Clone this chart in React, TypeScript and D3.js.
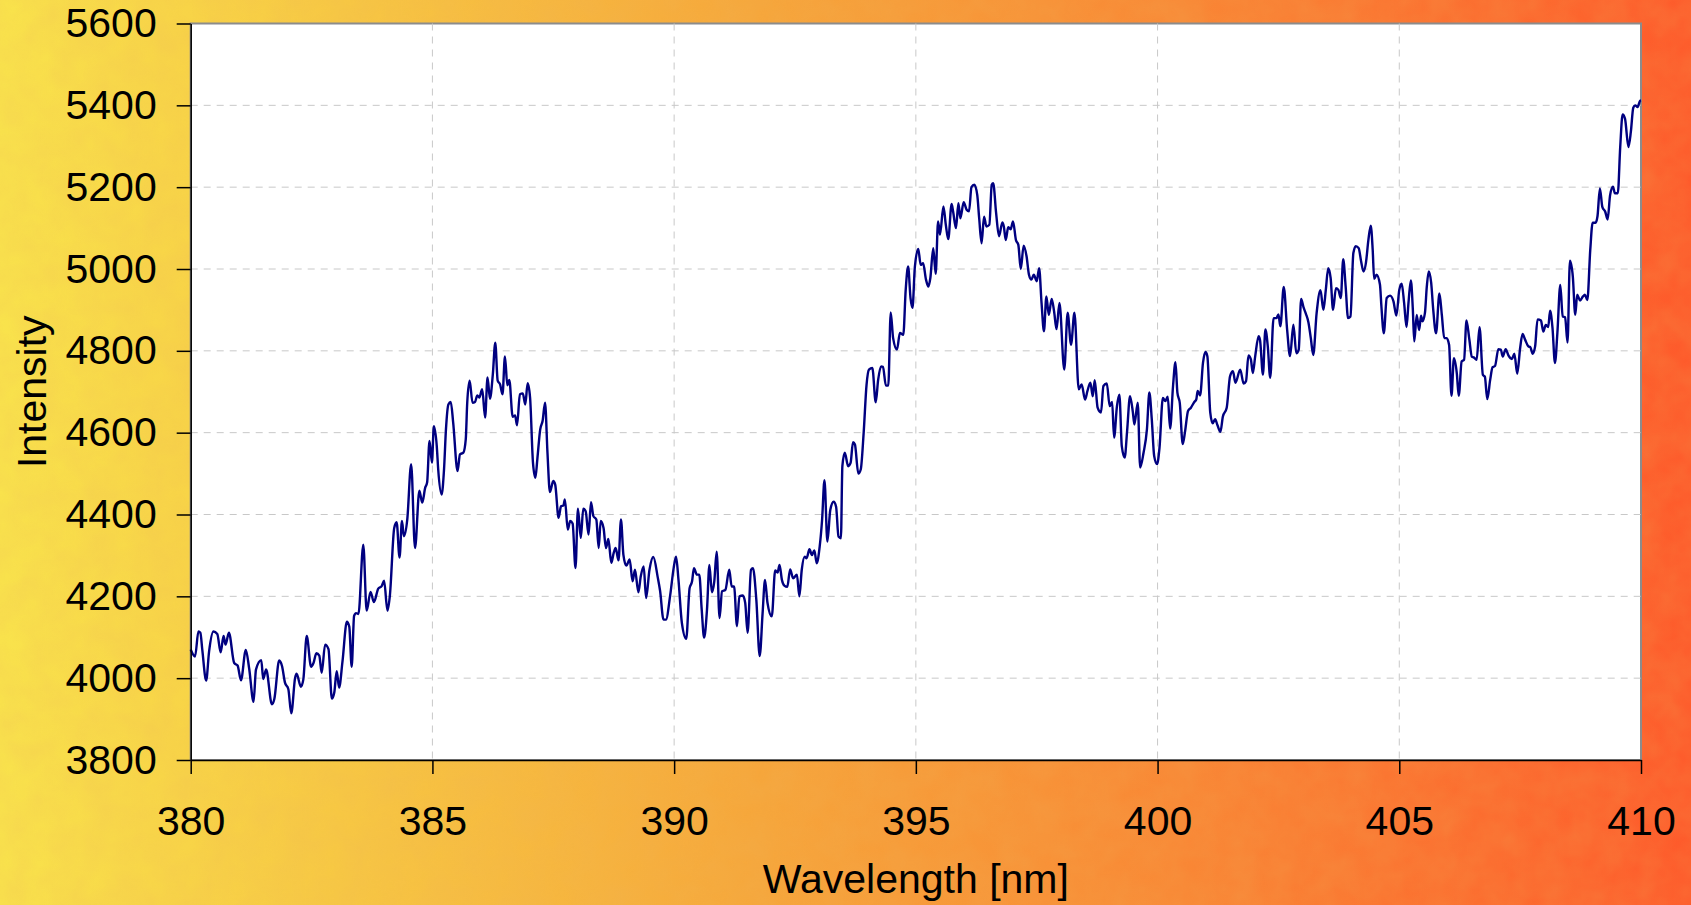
import { useEffect, useRef } from "react";
import * as d3 from "d3";

// [wavelength nm, intensity], band by band
const band380: [number, number][] = [
  [380.0, 4070], [380.09, 4053], [380.16, 4114], [380.2, 4111], [380.24, 4069], [380.32, 3994],
  [380.38, 4065], [380.47, 4114], [380.55, 4108], [380.62, 4063], [380.68, 4103], [380.72, 4082],
  [380.79, 4111], [380.9, 4037], [380.97, 4031], [381.04, 3995], [381.14, 4069], [381.21, 4023],
  [381.3, 3942], [381.35, 4021], [381.46, 4044], [381.5, 3998], [381.56, 4021], [381.68, 3936],
  [381.73, 3949], [381.83, 4043], [381.89, 4029], [381.95, 3989], [382.02, 3973], [382.08, 3914],
  [382.16, 4001], [382.19, 4011], [382.28, 3979], [382.33, 3997], [382.4, 4103], [382.49, 4028],
  [382.54, 4037], [382.6, 4061], [382.66, 4055], [382.71, 4013], [382.78, 4082], [382.85, 4071],
  [382.92, 3950], [382.97, 3965], [383.02, 4017], [383.07, 3977], [383.14, 4041], [383.23, 4138],
  [383.28, 4126], [383.33, 4028], [383.38, 4152],
];

const band383: [number, number][] = [
  [383.42, 4159], [383.47, 4157], [383.57, 4326], [383.64, 4165], [383.72, 4211], [383.79, 4186],
  [383.88, 4219], [383.95, 4225], [384.0, 4238], [384.07, 4165], [384.12, 4202], [384.21, 4367],
  [384.26, 4381], [384.32, 4295], [384.37, 4384], [384.41, 4347], [384.48, 4388], [384.56, 4523],
  [384.64, 4318], [384.73, 4458], [384.79, 4429], [384.85, 4465], [384.89, 4478], [384.94, 4580],
  [384.99, 4527],
];

const band385: [number, number][] = [
  [385.03, 4616], [385.09, 4567], [385.12, 4510], [385.19, 4449], [385.24, 4510], [385.28, 4608],
  [385.33, 4669], [385.38, 4675], [385.43, 4624], [385.52, 4506], [385.57, 4547], [385.64, 4551],
  [385.69, 4584], [385.72, 4673], [385.77, 4727], [385.83, 4673], [385.88, 4675], [385.93, 4691],
  [385.97, 4686], [386.03, 4706], [386.09, 4637], [386.14, 4735], [386.19, 4683], [386.25, 4743],
  [386.3, 4820], [386.35, 4727], [386.4, 4718], [386.45, 4694], [386.5, 4786], [386.55, 4716],
  [386.59, 4729], [386.66, 4639], [386.71, 4642], [386.75, 4618], [386.81, 4694], [386.87, 4696],
  [386.92, 4669], [386.97, 4721], [387.02, 4686], [387.08, 4527], [387.13, 4490], [387.17, 4535],
  [387.23, 4608], [387.28, 4629], [387.33, 4673], [387.38, 4551], [387.43, 4455], [387.5, 4482],
  [387.54, 4473], [387.61, 4392], [387.66, 4420], [387.71, 4422], [387.74, 4437], [387.8, 4363],
  [387.85, 4384], [387.9, 4378], [387.96, 4269], [388.01, 4414], [388.07, 4343], [388.12, 4414],
  [388.17, 4408], [388.23, 4351], [388.28, 4430], [388.33, 4396], [388.39, 4388], [388.44, 4318],
  [388.48, 4384], [388.54, 4367], [388.59, 4318], [388.64, 4340], [388.7, 4282], [388.75, 4306],
  [388.79, 4318], [388.85, 4288], [388.9, 4388], [388.95, 4302], [389.01, 4275], [389.08, 4290],
  [389.14, 4237], [389.19, 4265], [389.26, 4210], [389.31, 4249], [389.37, 4273], [389.42, 4196],
  [389.49, 4265], [389.57, 4296], [389.66, 4247],
];

const band390: [number, number][] = [
  [389.71, 4213], [389.78, 4143], [389.83, 4143], [389.92, 4204], [389.99, 4269], [390.04, 4297],
  [390.09, 4240], [390.16, 4135], [390.25, 4096], [390.32, 4220], [390.37, 4236], [390.41, 4269],
  [390.47, 4253], [390.52, 4253], [390.57, 4168], [390.62, 4099], [390.68, 4168], [390.73, 4277],
  [390.78, 4210], [390.83, 4236], [390.88, 4309], [390.94, 4147], [390.99, 4212], [391.06, 4216],
  [391.14, 4265], [391.19, 4224], [391.24, 4224], [391.3, 4127], [391.35, 4200], [391.42, 4202],
  [391.47, 4184], [391.52, 4111], [391.59, 4265], [391.63, 4269], [391.7, 4192], [391.77, 4054],
  [391.83, 4159], [391.88, 4240], [391.93, 4185], [392.02, 4151], [392.09, 4263], [392.14, 4258],
  [392.18, 4277], [392.23, 4240], [392.28, 4226], [392.34, 4223], [392.4, 4266], [392.46, 4244],
  [392.54, 4253], [392.59, 4200], [392.64, 4265], [392.7, 4297], [392.74, 4293], [392.8, 4315],
  [392.85, 4301], [392.9, 4312], [392.95, 4281], [393.01, 4321], [393.06, 4386], [393.11, 4484],
  [393.17, 4334], [393.23, 4411], [393.3, 4431], [393.35, 4419], [393.4, 4346], [393.45, 4342],
];

const band393: [number, number][] = [
  [393.48, 4518], [393.53, 4551], [393.6, 4518], [393.65, 4526], [393.7, 4577], [393.74, 4571],
  [393.81, 4500], [393.86, 4510], [393.92, 4599], [393.98, 4717], [394.03, 4754], [394.1, 4758],
  [394.17, 4674], [394.22, 4729], [394.28, 4762], [394.32, 4761], [394.38, 4715], [394.43, 4715],
  [394.48, 4894], [394.53, 4831], [394.61, 4803], [394.67, 4844], [394.74, 4839], [394.79, 4949],
  [394.84, 5006], [394.89, 4929], [394.93, 4905], [394.98, 5006], [395.05, 5049], [395.1, 5010],
  [395.15, 5014], [395.21, 4974], [395.26, 4957], [395.3, 4978], [395.36, 5051], [395.41, 4988],
  [395.46, 5116], [395.5, 5084], [395.57, 5153], [395.62, 5108], [395.67, 5073], [395.74, 5159],
  [395.77, 5141], [395.83, 5100], [395.88, 5161], [395.92, 5124], [395.99, 5163], [396.05, 5145],
  [396.1, 5141], [396.15, 5200], [396.21, 5206], [396.27, 5181], [396.31, 5124], [396.36, 5063],
  [396.41, 5128], [396.46, 5104], [396.52, 5108], [396.57, 5206], [396.6, 5210], [396.66, 5137],
  [396.72, 5080], [396.79, 5114], [396.82, 5104], [396.86, 5071], [396.91, 5102], [396.96, 5097],
  [397.01, 5116], [397.07, 5071], [397.12, 5059], [397.17, 5000], [397.23, 5057], [397.29, 5031],
  [397.34, 4986], [397.39, 4974], [397.44, 4986], [397.5, 4970], [397.55, 5002], [397.6, 4917],
  [397.65, 4848], [397.7, 4933], [397.75, 4888], [397.81, 4927], [397.86, 4896], [397.91, 4853],
  [397.97, 4917],
];

const band398: [number, number][] = [
  [398.07, 4754], [398.14, 4893], [398.21, 4815], [398.28, 4893], [398.37, 4706], [398.43, 4718],
  [398.5, 4681], [398.55, 4702], [398.61, 4722], [398.66, 4689], [398.7, 4728], [398.76, 4661],
  [398.83, 4649], [398.88, 4714], [398.95, 4720], [399.01, 4665], [399.06, 4675], [399.1, 4588],
  [399.16, 4665], [399.21, 4693], [399.26, 4567], [399.32, 4539], [399.37, 4604], [399.43, 4689],
  [399.49, 4649], [399.52, 4620], [399.59, 4673], [399.64, 4515], [399.71, 4551], [399.78, 4608],
  [399.83, 4698], [399.88, 4633], [399.93, 4543], [399.99, 4523], [400.04, 4563], [400.11, 4685],
  [400.16, 4677], [400.21, 4688], [400.26, 4610], [400.32, 4714], [400.37, 4772], [400.41, 4698],
  [400.46, 4672], [400.52, 4572], [400.57, 4604], [400.63, 4653], [400.69, 4661], [400.76, 4675],
  [400.8, 4681], [400.83, 4702], [400.88, 4691], [400.94, 4771], [400.99, 4797], [401.03, 4787],
  [401.09, 4649], [401.14, 4623], [401.19, 4633], [401.24, 4618], [401.3, 4602], [401.35, 4639],
  [401.43, 4661], [401.5, 4738], [401.56, 4750], [401.61, 4722], [401.71, 4754], [401.78, 4720],
  [401.83, 4726], [401.88, 4789], [401.93, 4779], [401.97, 4746], [402.02, 4787], [402.09, 4836],
  [402.12, 4826], [402.18, 4742], [402.23, 4852], [402.28, 4811], [402.33, 4734], [402.4, 4880],
  [402.46, 4880], [402.5, 4889], [402.54, 4860], [402.61, 4956], [402.68, 4852], [402.74, 4787],
  [402.81, 4864], [402.87, 4794], [402.92, 4803],
];

const band403: [number, number][] = [
  [402.97, 4927], [403.02, 4906], [403.07, 4890], [403.12, 4870], [403.17, 4831], [403.22, 4790],
  [403.29, 4892], [403.37, 4948], [403.43, 4900], [403.48, 4949], [403.53, 5002], [403.58, 4978],
  [403.63, 4900], [403.69, 4953], [403.74, 4949], [403.79, 4929], [403.84, 5024], [403.89, 4958],
  [403.94, 4880], [403.99, 4884], [404.05, 5039], [404.1, 5056], [404.16, 5051], [404.21, 5019],
  [404.26, 4994], [404.31, 5015], [404.36, 5070], [404.41, 5106], [404.45, 5047], [404.48, 4976],
  [404.53, 4986], [404.6, 4962], [404.63, 4909], [404.68, 4843], [404.74, 4929], [404.81, 4935],
  [404.88, 4921], [404.94, 4886], [405.0, 4949], [405.05, 4964], [405.1, 4917], [405.15, 4858],
  [405.19, 4917], [405.24, 4972], [405.28, 4902], [405.31, 4823], [405.36, 4888], [405.41, 4851],
  [405.45, 4886], [405.48, 4872], [405.53, 4892], [405.57, 4958], [405.61, 4994], [405.66, 4966],
  [405.7, 4904], [405.76, 4843], [405.83, 4940], [405.88, 4888], [405.93, 4831], [405.98, 4831],
  [406.03, 4815], [406.08, 4690], [406.13, 4782], [406.19, 4745], [406.23, 4690], [406.29, 4774],
  [406.34, 4778], [406.39, 4874], [406.45, 4827], [406.5, 4786], [406.54, 4784], [406.6, 4778],
  [406.66, 4858],
];

const band407: [number, number][] = [
  [406.73, 4741], [406.77, 4737], [406.82, 4682], [406.88, 4729], [406.93, 4760], [406.98, 4763],
  [407.05, 4804], [407.1, 4803], [407.14, 4786], [407.2, 4804], [407.26, 4788], [407.33, 4780],
  [407.38, 4793], [407.44, 4744], [407.5, 4807], [407.55, 4841], [407.6, 4828], [407.67, 4811],
  [407.71, 4809], [407.76, 4793], [407.81, 4811], [407.86, 4877], [407.93, 4874], [407.98, 4847],
  [408.03, 4863], [408.08, 4858], [408.12, 4898], [408.17, 4855], [408.22, 4770], [408.27, 4843],
  [408.33, 4961], [408.38, 4884], [408.43, 4882], [408.48, 4820], [408.53, 5020], [408.59, 4981],
  [408.64, 4888], [408.68, 4937], [408.74, 4923], [408.8, 4933], [408.84, 4937], [408.89, 4924],
  [408.95, 5046], [409.0, 5113], [409.06, 5113], [409.1, 5129], [409.15, 5197], [409.2, 5152],
  [409.26, 5140], [409.31, 5121], [409.36, 5180], [409.42, 5201], [409.46, 5185], [409.52, 5185],
  [409.57, 5298], [409.62, 5378], [409.67, 5367], [409.74, 5298], [409.79, 5335], [409.84, 5394],
  [409.88, 5400], [409.93, 5396], [409.98, 5411], [410.0, 5412],
];

const xTicks = [380, 385, 390, 395, 400, 405, 410];
const yTicks = [3800, 4000, 4200, 4400, 4600, 4800, 5000, 5200, 5400, 5600];

const W = 1691;
const H = 905;
const FONT = "'Liberation Sans', Arial, sans-serif";

export default function App() {
  const ref = useRef<SVGSVGElement>(null);

  useEffect(() => {
    const svg = d3.select(ref.current);
    svg.selectAll("*").remove();

    const data = [
      ...band380, ...band383, ...band385, ...band390,
      ...band393, ...band398, ...band403, ...band407,
    ];

    const x = d3.scaleLinear().domain([380, 410]).range([190.7, 1641]);
    const y = d3.scaleLinear().domain([3800, 5600]).range([760, 23.5]);

    // background
    const defs = svg.append("defs");
    const grad = defs
      .append("linearGradient")
      .attr("id", "bg")
      .attr("x1", 0)
      .attr("x2", 1)
      .attr("y1", 0)
      .attr("y2", 0);
    [
      [0, "#f9e34c"],
      [0.2, "#f7c843"],
      [0.45, "#f6a63b"],
      [0.7, "#f98735"],
      [1, "#fe5a2b"],
    ].forEach(([o, c]) => grad.append("stop").attr("offset", o).attr("stop-color", c));

    const f = defs.append("filter").attr("id", "grain");
    f.append("feTurbulence")
      .attr("type", "fractalNoise")
      .attr("baseFrequency", 0.035)
      .attr("numOctaves", 3)
      .attr("seed", 4);
    f.append("feColorMatrix")
      .attr("type", "matrix")
      .attr("values", "0 0 0 0 0.85  0 0 0 0 0.45  0 0 0 0 0.1  0 0 0 0.6 -0.1");

    svg.append("rect").attr("width", W).attr("height", H).attr("fill", "url(#bg)");
    svg
      .append("rect")
      .attr("width", W)
      .attr("height", H)
      .attr("filter", "url(#grain)")
      .attr("opacity", 0.45);

    const [x0, x1] = x.range();
    const [y0, y1] = y.range();

    // plot area
    svg
      .append("rect")
      .attr("x", x0)
      .attr("y", y1)
      .attr("width", x1 - x0)
      .attr("height", y0 - y1)
      .attr("fill", "#fff")
      .attr("stroke", "#8c8c8c")
      .attr("stroke-width", 2);

    // grid
    const grid = svg
      .append("g")
      .attr("stroke", "#c8c8c8")
      .attr("stroke-width", 1)
      .attr("stroke-dasharray", "7,6");
    yTicks.slice(1, -1).forEach((t) =>
      grid.append("line").attr("x1", x0).attr("x2", x1).attr("y1", y(t)).attr("y2", y(t))
    );
    xTicks.slice(1, -1).forEach((t) =>
      grid.append("line").attr("x1", x(t)).attr("x2", x(t)).attr("y1", y1).attr("y2", y0)
    );

    // spectrum
    const line = d3
      .line<[number, number]>()
      .x((d) => x(d[0]))
      .y((d) => y(d[1]))
      .curve(d3.curveMonotoneX);

    svg
      .append("path")
      .datum(data)
      .attr("fill", "none")
      .attr("stroke", "#000080")
      .attr("stroke-width", 2.4)
      .attr("stroke-linejoin", "round")
      .attr("d", line);

    // axes
    const yAxis = svg
      .append("g")
      .attr("transform", `translate(${x0},0)`)
      .call(
        d3
          .axisLeft(y)
          .tickValues(yTicks)
          .tickFormat(d3.format("d"))
          .tickSize(14)
          .tickPadding(20)
          .tickSizeOuter(0)
      );
    const xAxis = svg
      .append("g")
      .attr("transform", `translate(0,${y0})`)
      .call(
        d3
          .axisBottom(x)
          .tickValues(xTicks)
          .tickFormat(d3.format("d"))
          .tickSize(14)
          .tickSizeOuter(0)
      );

    [yAxis, xAxis].forEach((a) => {
      a.select(".domain").attr("stroke", "#000").attr("stroke-width", 1.5);
      a.selectAll(".tick line").attr("stroke", "#000").attr("stroke-width", 1.5);
      a.selectAll(".tick text")
        .attr("fill", "#000")
        .style("font-family", FONT)
        .style("font-size", "41px");
    });
    xAxis.selectAll(".tick text").attr("dy", "0").attr("y", 835 - y0);

    // titles
    svg
      .append("text")
      .attr("x", (x0 + x1) / 2)
      .attr("y", 893)
      .attr("text-anchor", "middle")
      .style("font-family", FONT)
      .style("font-size", "41px")
      .text("Wavelength [nm]");

    svg
      .append("text")
      .attr("transform", `translate(46,${(y0 + y1) / 2}) rotate(-90)`)
      .attr("text-anchor", "middle")
      .style("font-family", FONT)
      .style("font-size", "41px")
      .text("Intensity");
  }, []);

  return (
    <svg
      ref={ref}
      width={W}
      height={H}
      style={{ position: "absolute", left: 0, top: 0, display: "block" }}
    />
  );
}
